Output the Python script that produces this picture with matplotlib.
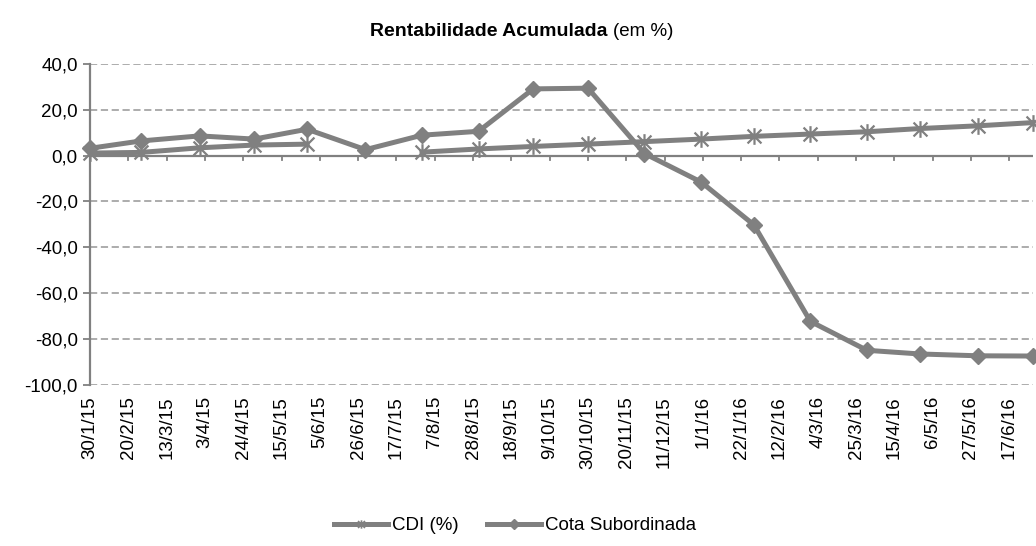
import numpy as np
import pandas as pd
import matplotlib
matplotlib.use('Agg')
from matplotlib import pyplot as plt
from matplotlib.lines import Line2D
from matplotlib.path import Path

plt.rcParams['font.family'] = ['Liberation Sans', 'DejaVu Sans']

# month-end dates of the series
dates = pd.to_datetime([
    '2015-01-30', '2015-02-27', '2015-03-31', '2015-04-30', '2015-05-29',
    '2015-06-30', '2015-07-31', '2015-08-31', '2015-09-30', '2015-10-30',
    '2015-11-30', '2015-12-31', '2016-01-29', '2016-02-29', '2016-03-31',
    '2016-04-29', '2016-05-31', '2016-06-30'])

cdi = [1.1, 1.4, 3.4, 4.6, 5.0, np.nan, 1.5, 2.9, 4.0, 5.0, 6.1, 7.2,
       8.4, 9.4, 10.4, 11.8, 13.0, 14.4]
cota_sub = [3.2, 6.4, 8.6, 7.2, 11.5, 2.6, 8.9, 10.6, 29.1, 29.4, 0.9, -11.5,
            -30.2, -72.3, -84.9, -86.5, -87.3, -87.4]

# x-axis tick dates every 21 days
tick_dates = pd.date_range('2015-01-30', '2016-06-17', freq='21D')
tick_labels = [f'{d.day}/{d.month}/{d.year % 100}' for d in tick_dates]
y_ticks = list(range(-100, 41, 20))

gray = '#808080'
grid_gray = '#A6A6A6'

# excel style asterisk: an X with a vertical bar
asterisk = Path([(-1, -1), (1, 1), (-1, 1), (1, -1), (0, -1.2), (0, 1.2)],
                [Path.MOVETO, Path.LINETO] * 3)

fig = plt.figure(figsize=(10.36, 5.46), dpi=100)
ax = fig.add_axes([0.087, 0.295, 0.910, 0.588])

ymin, ymax = -100, 40

ax.plot(dates, cdi, color=gray, lw=3.6, marker=asterisk, ms=12, mew=1.6,
        mec=gray, clip_on=False, zorder=3)
ax.plot(dates, cota_sub, color=gray, lw=3.6, marker='D', ms=8.5,
        mec=gray, mfc=gray, clip_on=False, zorder=4)

ax.set_xlim(dates[0], dates[-1])
ax.set_ylim(ymin, ymax)

# y axis
ax.set_yticks(y_ticks)
ax.set_yticklabels([f'{v:.1f}'.replace('.', ',') for v in y_ticks])
ax.tick_params(axis='y', direction='out', length=5, width=1.3, color=gray,
               labelsize=13.5, pad=4)
for v in y_ticks:
    if v != 0:
        ax.axhline(v, color=grid_gray, lw=1.3, ls=(0, (4, 2)), zorder=1)

# bottom labels, without tick marks
ax.set_xticks(tick_dates)
ax.set_xticklabels(tick_labels, rotation=90)
ax.tick_params(axis='x', length=0, labelsize=13.5, pad=8)

for side in ['top', 'right', 'bottom']:
    ax.spines[side].set_visible(False)
ax.spines['left'].set_color(gray)
ax.spines['left'].set_linewidth(1.6)

# horizontal axis line at zero with tick marks
ax.axhline(0, color=gray, lw=1.6, zorder=2)
for d in tick_dates[1:]:
    ax.plot([d, d], [0, -1.8], color=gray, lw=1.3, zorder=2, clip_on=False)

# title
fig.text(0.586, 0.943, 'Rentabilidade Acumulada', ha='right', va='center',
         fontsize=14, fontweight='bold')
fig.text(0.592, 0.943, '(em %)', ha='left', va='center', fontsize=13.5)

handles = [
    Line2D([], [], color=gray, lw=3.6, marker=asterisk, ms=6, mew=1.2),
    Line2D([], [], color=gray, lw=3.6, marker='D', ms=5.5),
]
fig.legend(handles, ['CDI (%)', 'Cota Subordinada'], loc='center',
           bbox_to_anchor=(0.497, 0.037), ncol=2, frameon=False,
           fontsize=13.5, handlelength=2.9, handletextpad=0.2,
           columnspacing=1.5)

fig.savefig('out.png', dpi=100)
